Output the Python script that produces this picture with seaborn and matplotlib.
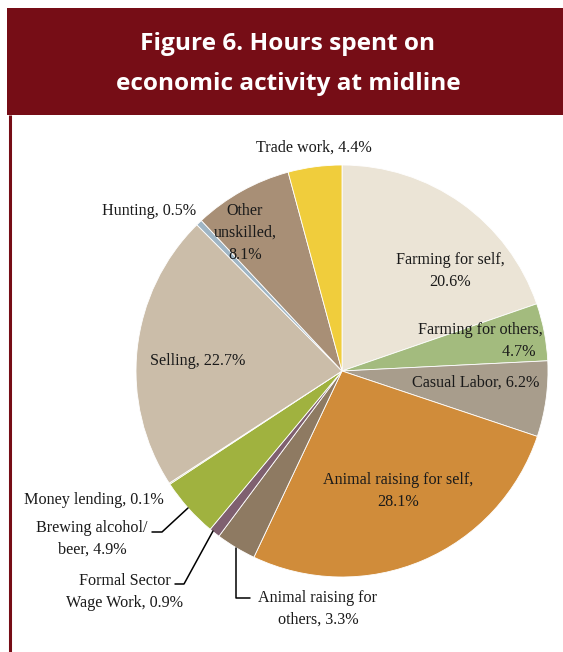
import matplotlib
matplotlib.use("Agg")
import matplotlib.pyplot as plt
import seaborn as sns
from matplotlib.patches import Rectangle

categories = ["Farming for self", "Farming for others", "Casual Labor",
              "Animal raising for self", "Animal raising for others",
              "Formal Sector Wage Work", "Brewing alcohol/beer", "Money lending",
              "Selling", "Hunting", "Other unskilled", "Trade work"]
values = [20.6, 4.7, 6.2, 28.1, 3.3, 0.9, 4.9, 0.1, 22.7, 0.5, 8.1, 4.4]
colors = ["#ebe4d6", "#a3bb7e", "#a89d8c", "#d08c3a", "#8e7a62", "#7f6070",
          "#a0b23f", "#b0b07a", "#cbbda9", "#9fb5c4", "#a88f76", "#f0cd3c"]
label_texts = ["Farming for self,\n20.6%", "Farming for others,\n4.7%\u00a0\u00a0",
               "Casual Labor, 6.2%", "Animal raising for self,\n28.1%",
               "Animal raising for\nothers, 3.3%", "Formal Sector\nWage Work, 0.9%",
               "Brewing alcohol/\nbeer, 4.9%", "Money lending, 0.1%",
               "Selling, 22.7%", "Hunting, 0.5%", "Other\nunskilled,\n8.1%",
               "Trade work, 4.4%"]

sns.set_theme(style="white")
plt.rcParams["font.family"] = ["Liberation Serif", "DejaVu Serif"]

W, H = 563, 652
fig = plt.figure(figsize=(W / 100, H / 100), dpi=100)
ax = fig.add_axes([0, 0, 1, 1])

def Y(py):
    return H - py

cx, cy, r = 342, Y(371), 206
wedges, _ = ax.pie(values, colors=colors, startangle=90, counterclock=False,
                   center=(cx, cy), radius=r, frame=True,
                   wedgeprops=dict(edgecolor="white", linewidth=0.6))
ax.set_xlim(0, W)
ax.set_ylim(0, H)
ax.set_aspect("equal")
ax.axis("off")

# header band and left border
red = "#760d16"
ax.add_patch(Rectangle((7, Y(115)), W - 7, 107, color=red, lw=0, zorder=0))
ax.plot([10, 10], [Y(115), 0], color=red, lw=2.2, zorder=0, solid_capstyle="butt")
tfont = dict(color="white", ha="center", va="center", fontsize=17.6,
             fontweight="bold", family=["Open Sans", "DejaVu Sans"])
ax.text(288, Y(44), "Figure 6. Hours spent on", **tfont)
ax.text(288, Y(84), "economic activity at midline", **tfont)

fs = 11.6
tc = "#1a1a1a"
pos = {
    0: (450, 271, "center", "center"),
    1: (543, 341, "right", "right"),
    2: (476, 383, "center", "center"),
    3: (398, 491, "center", "center"),
    4: (318, 609, "center", "center"),
    5: (183, 592, "right", "center"),
    6: (148, 539, "right", "center"),
    7: (164, 500, "right", "center"),
    8: (198, 361, "center", "center"),
    9: (196, 211, "right", "center"),
    10: (245, 233, "center", "center"),
    11: (314, 148, "center", "center"),
}
for i, (px, py, ha, ma) in pos.items():
    ax.text(px, Y(py), label_texts[i], ha=ha, va="center", fontsize=fs, color=tc,
            linespacing=1.5, multialignment=ma)

# leader lines
lk = dict(color="black", lw=1.1)
ax.plot([152, 162, 188], [Y(532), Y(532), Y(508)], **lk)
ax.plot([175, 184, 213], [Y(584), Y(584), Y(531)], **lk)
ax.plot([236, 236, 250], [Y(548), Y(598), Y(598)], **lk)

fig.savefig("out.png", dpi=100)
